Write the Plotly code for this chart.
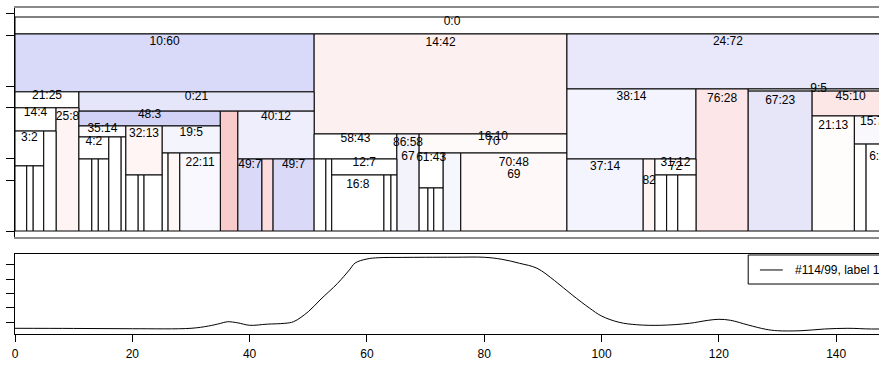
import plotly.graph_objects as go

# ---------------- top panel: segmentation tree (x = sample index, y = node height, log scale)
box_x0 = [0, 0, 51, 94.1, 0, 10.9, 0, 7.0, 0, 0, 2.0, 3.1, 4.9, 10.9, 35.0, 38.0,
          10.9, 10.9, 10.9, 13.1, 14.2, 16.0, 18.1, 18.9, 18.9, 21.0, 22.0, 25.1, 25.1, 26.1, 28.1,
          38.0, 42.1, 44.0, 51.0, 65.1, 68.9, 51.0, 53.0, 54.0, 54.0, 62.9, 64.1, 68.9, 68.9, 70.4,
          71.4, 73.0, 76.0, 94.1, 116.1, 125.0, 125.0, 135.9, 94.1, 107.1, 109.1, 109.1, 111.1, 113.0,
          135.9, 143.1, 143.1, 145.1]
box_x1 = [149, 51, 94.1, 149, 10.9, 51, 7.0, 10.9, 4.9, 2.0, 3.1, 4.9, 7.0, 35.0, 38.0, 51.0,
          18.9, 16.0, 13.1, 14.2, 16.0, 18.1, 18.9, 25.1, 21.0, 22.0, 25.1, 35.0, 26.1, 28.1, 35.0,
          42.1, 44.0, 51.0, 65.1, 68.9, 94.1, 53.0, 54.0, 65.1, 62.9, 64.1, 65.1, 73.0, 70.4, 71.4,
          73.0, 76.0, 94.1, 116.1, 125.0, 149, 135.9, 149, 107.1, 109.1, 116.1, 111.1, 113.0, 116.1,
          143.1, 149, 145.1, 149]
box_top = [895, 522, 522, 522, 83, 83, 50, 50, 23.9, 7.9, 7.9, 7.9, 23.9, 45, 45, 45,
           28.1, 19.8, 9.84, 9.84, 9.84, 19.8, 19.8, 28.1, 5.92, 5.92, 5.92, 28.1, 11.9, 11.9, 11.9,
           9.84, 9.84, 9.84, 21.8, 21.8, 21.8, 9.84, 9.84, 9.84, 5.92, 5.92, 5.92, 11.9, 3.92, 3.92,
           3.92, 11.9, 11.9, 91, 91, 91, 85, 85, 9.84, 9.84, 9.84, 5.92, 5.92, 5.92,
           38.6, 38.6, 15.8, 15.8]
box_bottom = [522, 83, 21.8, 91, 50, 45, 23.9, 1, 7.9, 1, 1, 1, 1, 28.1, 1, 9.84,
              19.8, 9.84, 1, 1, 1, 1, 1, 5.92, 1, 1, 1, 11.9, 1, 1, 1,
              1, 1, 1, 9.84, 1, 11.9, 1, 1, 5.92, 1, 1, 1, 3.92, 1, 1,
              1, 1, 1, 9.84, 1, 85, 1, 38.6, 1, 1, 5.92, 1, 1, 1,
              1, 15.8, 1, 1]
box_fill = ["#ffffff", "#d9d9f9", "#fdf0f0", "#e8e8fa", "#ffffff", "#e6e6fa", "#ffffff", "#fff4f4",
            "#ffffff", "#ffffff", "#ffffff", "#ffffff", "#ffffff", "#d2d2f6", "#f9cccc", "#eeeefc",
            "#fafaff", "#ffffff", "#ffffff", "#ffffff", "#ffffff", "#ffffff", "#ffffff", "#fff5f5",
            "#ffffff", "#ffffff", "#ffffff", "#f4f4fd", "#ffffff", "#fff6f6", "#f8f8fe",
            "#dadaf8", "#fcdcdc", "#dadaf8", "#ffffff", "#f3f3fc", "#fffafa", "#ffffff", "#ffffff",
            "#ffffff", "#ffffff", "#ffffff", "#ffffff", "#ffffff", "#ffffff", "#ffffff",
            "#ffffff", "#f6f6fd", "#fff8f8", "#f4f4fe", "#fde6e8", "#ffffff", "#e6e6f8", "#fde6e6",
            "#f4f4fe", "#fff4f4", "#ffffff", "#ffffff", "#ffffff", "#ffffff",
            "#fffcfc", "#f8f8fd", "#ffffff", "#ffffff"]

label_box = [0, 1, 2, 3, 4, 5, 6, 7, 8, 13, 15, 16, 17, 23, 27, 30, 31, 33, 34, 35, 35, 36, 36,
             39, 40, 43, 48, 48, 49, 50, 51, 52, 53, 54, 55, 56, 56, 60, 61, 63]
label_text = ["0:0", "10:60", "14:42", "24:72", "21:25", "0:21", "14:4", "25:8", "3:2", "48:3",
              "40:12", "35:14", "4:2", "32:13", "19:5", "22:11", "49:7", "49:7", "58:43", "86:58",
              "67", "16:10", "70", "12:7", "16:8", "61:43", "70:48", "69", "38:14", "76:28", "9:5",
              "67:23", "45:10", "37:14", "82", "31:12", "72", "21:13", "15:7", "6:3"]
label_y = [770, 405, 392, 405, 72.8, 70.5, 42.4, 37.4, 19.2, 39.8,
           37.4, 25.5, 16.9, 21.8, 22.5, 8.67, 8.13, 8.13, 18.6, 16.4,
           10.6, 19.8, 16.9, 8.67, 4.31, 10.2, 8.67, 5.92, 70.5, 66.2, 91,
           62.1, 70.5, 7.63, 4.89, 8.67, 7.63, 28.1, 31.9, 10.5]

top_ticks = [1, 5, 10, 50, 100, 500, 1000]

# ---------------- bottom panel: smoothed score curve
line_x = [0, 10, 20, 30, 33, 35, 36.2, 38, 40, 43, 46, 47.5, 50, 52, 55, 57, 58, 60, 62, 66, 70,
          75, 80, 83, 86, 89, 92, 95, 98, 100, 103, 106, 110, 115, 118, 120, 122, 125, 128, 130,
          134, 138, 142, 146, 149]
line_y = [0.112, 0.110, 0.106, 0.112, 0.144, 0.180, 0.204, 0.188, 0.154, 0.170, 0.182, 0.205,
          0.345, 0.509, 0.743, 0.930, 1.028, 1.084, 1.102, 1.106, 1.108, 1.109, 1.108, 1.080,
          1.024, 0.954, 0.780, 0.579, 0.392, 0.284, 0.196, 0.162, 0.154, 0.182, 0.222, 0.238,
          0.224, 0.158, 0.098, 0.078, 0.078, 0.102, 0.112, 0.102, 0.105]
legend_name = "#114/99, label 1"
bottom_ticks = [0.2, 0.4, 0.6, 0.8, 1.0]
x_ticks = [0, 20, 40, 60, 80, 100, 120, 140]

FONT = "Liberation Sans, Arial, Helvetica, sans-serif"

fig = go.Figure()
for i in range(len(box_x0)):
    x0, x1, t, b = box_x0[i], box_x1[i], box_top[i], box_bottom[i]
    fig.add_trace(go.Scatter(
        x=[x0, x1, x1, x0, x0], y=[t, t, b, b, t], mode="lines", fill="toself",
        fillcolor=box_fill[i], line=dict(color="black", width=1),
        xaxis="x2", yaxis="y2", hoverinfo="skip", showlegend=False))

lab_x = [(box_x0[k] + box_x1[k]) / 2 for k in label_box]
fig.add_trace(go.Scatter(
    x=lab_x, y=label_y, text=label_text, mode="text", textposition="middle center",
    textfont=dict(size=12, color="black", family=FONT), cliponaxis=True,
    xaxis="x2", yaxis="y2", hoverinfo="skip", showlegend=False))

fig.add_trace(go.Scatter(
    x=line_x, y=line_y, mode="lines", line=dict(color="black", width=1, shape="spline", smoothing=1),
    name=legend_name, showlegend=False, hoverinfo="skip"))

# legend (drawn manually, cut by the window edge like the reference)
fig.add_shape(type="rect", xref="x", yref="y", x0=125.0, x1=160, y0=0.733, y1=1.140,
              line=dict(color="black", width=1), fillcolor="white", layer="above")
fig.add_shape(type="line", xref="x", yref="y", x0=127.0, x1=130.9, y0=0.930, y1=0.930,
              line=dict(color="black", width=1), layer="above")
fig.add_annotation(x=132.65, y=0.930, xref="x", yref="y", text=legend_name, showarrow=False,
                   xanchor="left", yanchor="middle", font=dict(size=12, color="black", family=FONT))

XR = [0, 147.3]
fig.update_layout(
    width=879, height=367, margin=dict(l=15, r=0, t=8, b=33),
    paper_bgcolor="white", plot_bgcolor="white",
    font=dict(family=FONT, size=12, color="black"),
    xaxis=dict(domain=[0, 1], range=XR, anchor="y", tickvals=x_ticks, ticks="outside", ticklen=7,
               tickcolor="black", showline=True, linecolor="black", mirror=True, showgrid=False,
               zeroline=False, tickfont=dict(size=12, color="black"), ticklabelstandoff=2),
    yaxis=dict(domain=[0, 0.2454], range=[0.032, 1.154], tickvals=bottom_ticks, showticklabels=False,
               ticks="outside", ticklen=8, tickcolor="black", showline=True, linecolor="black",
               mirror=True, showgrid=False, zeroline=False),
    xaxis2=dict(domain=[0, 1], range=XR, anchor="y2", showticklabels=False, ticks="",
                showline=True, linecolor="#8a8a8a", linewidth=2, mirror=True, showgrid=False,
                zeroline=False),
    yaxis2=dict(domain=[0.2975, 1], type="log", range=[-0.083, 3.076], tickvals=top_ticks,
                showticklabels=False, ticks="outside", ticklen=8, tickcolor="black",
                showline=True, linecolor="black", showgrid=False, zeroline=False, anchor="x2"),
)

fig.write_html(
    "out.html",
    config={"displayModeBar": False},
    post_script="document.body.style.margin='0';document.body.style.overflow='hidden';",
)
